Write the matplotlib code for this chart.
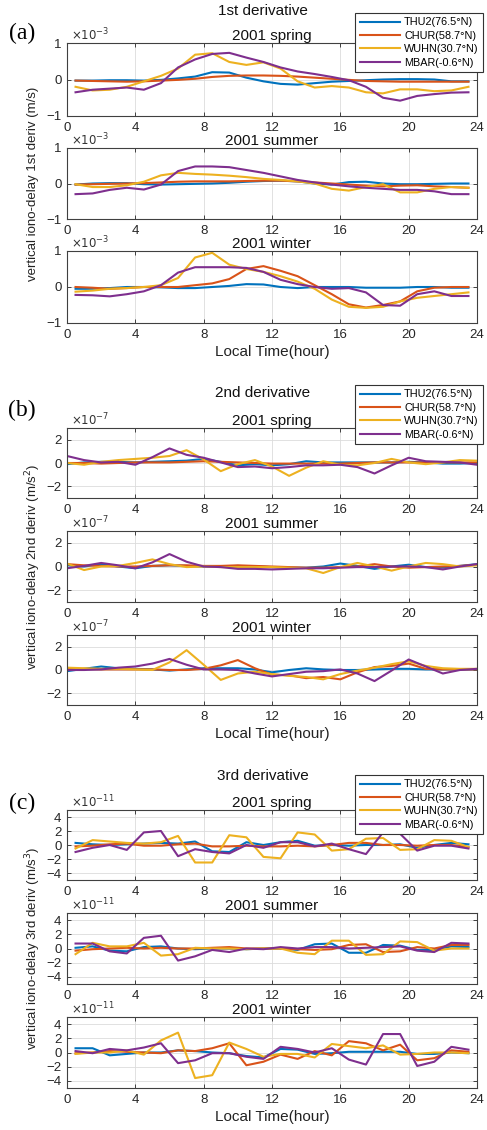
import numpy as np
import matplotlib
matplotlib.use("Agg")
import matplotlib.pyplot as plt

plt.rcParams['font.family'] = ['Liberation Sans', 'DejaVu Sans']

stations = ['THU2(76.5°N)', 'CHUR(58.7°N)', 'WUHN(30.7°N)', 'MBAR(-0.6°N)']
colors = ['#0072BD', '#D95319', '#EDB120', '#7E2F8E']
seasons = ['2001 spring', '2001 summer', '2001 winter']

hours_half = np.arange(0.5, 24, 1.0)
hours_int = np.arange(0, 25, 1.0)

# ---------------- 1st derivative (x 1e-3 m/s) ----------------
d1_spring_thu2 = [-0.03,-0.03,-0.02,-0.02,-0.03,-0.01,0.03,0.08,0.2,0.19,0.05,-0.05,-0.12,-0.14,-0.1,-0.06,-0.04,-0.02,0.0,0.01,0.01,0.0,-0.05,-0.05]
d1_spring_chur = [-0.03,-0.04,-0.05,-0.06,-0.05,-0.03,-0.01,0.02,0.07,0.1,0.11,0.11,0.1,0.08,0.05,0.02,-0.01,-0.04,-0.05,-0.06,-0.06,-0.06,-0.06,-0.06]
d1_spring_wuhn = [-0.2,-0.3,-0.28,-0.2,-0.05,0.1,0.3,0.68,0.72,0.48,0.4,0.47,0.3,-0.05,-0.22,-0.18,-0.22,-0.35,-0.38,-0.27,-0.27,-0.32,-0.3,-0.2]
d1_spring_mbar = [-0.35,-0.28,-0.25,-0.22,-0.28,-0.1,0.33,0.55,0.7,0.73,0.6,0.48,0.33,0.22,0.15,0.07,-0.02,-0.2,-0.5,-0.58,-0.45,-0.4,-0.36,-0.35]

d1_summer_thu2 = [-0.03,0.0,0.01,0.01,-0.02,-0.03,-0.02,-0.01,0.0,0.02,0.05,0.07,0.08,0.06,0.0,-0.03,0.04,0.05,0.0,-0.02,-0.02,-0.01,0.0,0.0]
d1_summer_chur = [-0.03,-0.02,-0.01,0.0,0.01,0.03,0.05,0.06,0.06,0.06,0.07,0.08,0.08,0.06,0.03,0.0,-0.03,-0.06,-0.08,-0.06,-0.05,-0.08,-0.1,-0.12]
d1_summer_wuhn = [-0.02,-0.1,-0.1,-0.05,0.05,0.23,0.3,0.27,0.25,0.22,0.18,0.13,0.1,0.06,0.0,-0.15,-0.2,-0.1,-0.02,-0.25,-0.25,-0.15,-0.1,-0.12]
d1_summer_mbar = [-0.3,-0.28,-0.18,-0.12,-0.17,-0.03,0.35,0.48,0.48,0.46,0.38,0.3,0.2,0.1,0.03,-0.03,-0.08,-0.12,-0.15,-0.18,-0.18,-0.22,-0.3,-0.3]

d1_winter_thu2 = [-0.05,-0.05,-0.03,0.0,0.0,-0.01,-0.03,-0.03,0.0,0.03,0.08,0.07,0.0,-0.03,0.0,0.0,0.0,-0.02,-0.02,-0.02,0.0,0.0,-0.02,-0.02]
d1_winter_chur = [0.0,-0.02,-0.05,-0.03,0.0,0.0,0.0,0.05,0.1,0.22,0.5,0.58,0.45,0.3,0.05,-0.2,-0.48,-0.57,-0.5,-0.4,-0.12,-0.02,0.0,0.0]
d1_winter_wuhn = [-0.13,-0.1,-0.05,-0.03,0.0,0.05,0.25,0.82,0.95,0.62,0.5,0.42,0.3,0.15,-0.05,-0.35,-0.55,-0.58,-0.55,-0.4,-0.3,-0.25,-0.2,-0.15]
d1_winter_mbar = [-0.22,-0.23,-0.26,-0.2,-0.12,0.05,0.4,0.55,0.55,0.55,0.53,0.42,0.2,0.08,0.0,-0.05,-0.03,-0.15,-0.5,-0.52,-0.2,-0.12,-0.25,-0.25]

# ---------------- 2nd derivative (x 1e-7 m/s^2) ----------------
d2_spring_thu2 = [-0.1,0.05,0.1,0.1,0.05,0.1,0.15,0.2,0.35,0.1,-0.2,-0.1,-0.2,-0.1,0.15,0.05,0.05,0.05,0.05,0.05,0.1,0.05,-0.05,-0.05,0.0]
d2_spring_chur = [0.0,0.0,-0.05,0.0,0.05,0.05,0.05,0.1,0.15,0.1,0.05,0.0,-0.05,-0.05,-0.05,-0.05,-0.05,0.0,0.05,0.05,0.05,0.05,0.05,0.05,0.05]
d2_spring_wuhn = [0.0,-0.15,0.1,0.25,0.35,0.45,0.6,1.1,0.3,-0.7,-0.1,0.25,-0.3,-1.1,-0.4,0.15,-0.15,-0.2,0.0,0.35,0.05,-0.1,0.05,0.25,0.2]
d2_spring_mbar = [0.6,0.25,0.05,0.1,-0.15,0.5,1.25,0.7,0.45,0.05,-0.35,-0.3,-0.45,-0.35,-0.2,-0.2,-0.15,-0.35,-0.9,-0.2,0.45,0.15,0.1,0.05,-0.15]

d2_summer_thu2 = [0.1,0.0,0.2,0.0,-0.15,0.05,0.1,0.05,0.0,0.0,0.05,0.0,-0.05,-0.1,-0.1,0.0,0.25,0.05,-0.2,0.0,0.15,-0.05,-0.1,0.05,0.2]
d2_summer_chur = [0.2,0.1,0.05,0.0,0.0,0.05,0.1,0.1,0.05,0.05,0.1,0.05,0.0,-0.05,-0.1,-0.1,-0.05,0.0,0.2,0.0,-0.1,-0.05,0.0,0.05,0.15]
d2_summer_wuhn = [0.25,-0.3,0.0,0.05,0.3,0.6,0.2,-0.05,0.0,-0.05,-0.05,-0.05,-0.05,-0.1,-0.15,-0.55,-0.05,0.3,0.0,-0.35,0.0,0.3,0.2,0.0,0.1]
d2_summer_mbar = [-0.15,0.05,0.3,0.1,-0.15,0.35,1.05,0.4,0.0,-0.05,-0.2,-0.2,-0.25,-0.2,-0.15,-0.15,-0.1,-0.05,-0.05,0.0,0.0,-0.05,-0.25,0.0,0.2]

d2_winter_thu2 = [-0.1,0.1,0.3,0.15,0.1,0.05,-0.05,0.05,0.15,0.15,0.15,0.05,-0.2,0.0,0.15,0.05,0.0,0.0,0.05,0.1,0.1,0.05,0.05,0.05,0.05]
d2_winter_chur = [0.1,0.1,0.05,0.05,0.05,0.05,0.0,0.0,0.1,0.4,0.85,0.15,-0.4,-0.45,-0.7,-0.6,-0.8,-0.2,0.25,0.35,0.55,0.1,0.05,0.05,0.05]
d2_winter_wuhn = [0.2,0.15,0.1,0.1,0.05,0.0,0.65,1.7,0.45,-0.85,-0.3,-0.15,-0.35,-0.5,-0.6,-0.8,-0.35,-0.05,0.2,0.5,0.75,0.35,0.15,0.1,0.1]
d2_winter_mbar = [0.0,0.0,0.05,0.2,0.3,0.55,0.95,0.45,0.05,0.05,0.0,-0.3,-0.55,-0.35,-0.15,-0.1,0.05,-0.3,-0.95,-0.05,0.9,0.3,-0.3,0.0,0.1]

# ---------------- 3rd derivative (x 1e-11 m/s^3) ----------------
d3_spring_thu2 = [0.3,0.1,0.0,0.1,0.2,0.3,0.2,0.5,-0.9,-1.0,0.4,0.0,0.4,0.6,-0.1,0.0,-0.1,0.0,0.0,0.1,-0.4,0.0,0.3,0.1]
d3_spring_chur = [-0.2,-0.1,0.1,0.2,-0.1,-0.1,0.1,0.2,-0.2,-0.2,-0.1,-0.2,-0.2,-0.1,-0.2,0.0,0.3,0.3,0.0,0.0,-0.1,0.0,0.0,-0.3]
d3_spring_wuhn = [-0.5,0.7,0.5,0.3,0.2,0.4,1.3,-2.5,-2.5,1.4,1.1,-1.7,-1.9,1.8,1.5,-0.8,-0.6,0.9,1.0,-0.7,-0.6,0.7,0.6,-0.3]
d3_spring_mbar = [-1.0,-0.4,0.0,-0.7,1.8,2.0,-1.6,-0.6,-1.0,-1.2,0.0,-0.4,0.4,0.4,-0.2,0.2,-0.6,-1.3,1.8,1.6,-0.8,-0.1,-0.1,-0.5]

d3_summer_thu2 = [0.1,0.3,-0.3,-0.4,0.2,0.3,0.0,-0.1,0.0,0.0,-0.1,0.0,0.0,-0.2,0.6,0.7,-0.6,-0.6,0.5,0.4,-0.2,-0.2,0.3,0.2]
d3_summer_chur = [-0.3,-0.1,0.0,0.1,0.0,0.1,0.0,0.0,0.1,0.2,0.0,0.0,0.0,-0.1,-0.2,-0.1,0.5,0.6,-0.5,-0.4,0.2,0.0,0.5,0.5]
d3_summer_wuhn = [-0.8,0.8,0.3,0.3,0.8,-1.0,-0.8,0.1,0.0,0.0,-0.1,0.0,0.0,-0.6,-0.8,1.1,1.1,-0.9,-0.8,1.0,0.9,-0.3,0.0,0.0]
d3_summer_mbar = [0.7,0.7,-0.4,-0.7,1.5,1.8,-1.7,-1.1,-0.2,-0.5,0.0,-0.1,0.2,0.0,0.2,0.2,0.0,0.1,0.2,0.3,-0.3,-0.5,0.8,0.7]

d3_winter_thu2 = [0.6,0.6,-0.4,-0.2,0.0,0.0,0.3,0.2,0.0,-0.1,-0.5,-0.7,0.5,0.4,-0.2,-0.1,0.1,0.1,0.1,0.1,-0.2,-0.2,0.0,-0.1]
d3_winter_chur = [-0.1,0.0,0.2,0.1,0.0,-0.1,0.3,0.2,0.6,1.3,-1.8,-1.3,-0.3,-0.9,0.2,-0.4,1.6,1.3,0.3,1.1,-1.1,-0.8,0.3,0.1]
d3_winter_wuhn = [-0.2,0.0,0.0,0.3,-0.3,1.7,2.8,-3.6,-3.2,1.4,0.5,-0.6,-0.2,-0.2,-0.7,1.2,0.9,0.6,1.0,-0.3,-0.2,0.0,0.0,-0.1]
d3_winter_mbar = [0.2,-0.1,0.5,0.3,0.7,1.3,-1.5,-1.1,-0.1,-0.1,-0.6,-0.9,0.8,0.5,0.0,0.6,-1.0,-1.7,2.6,2.6,-1.9,-1.3,0.8,0.4]

groups = [
    dict(x=hours_half, exp='-3', ylim=(-1, 1), yticks=[-1, 0, 1],
         title='1st derivative', label='(a)',
         ylabel='vertical iono-delay 1st deriv (m/s)',
         data=[[d1_spring_thu2, d1_spring_chur, d1_spring_wuhn, d1_spring_mbar],
               [d1_summer_thu2, d1_summer_chur, d1_summer_wuhn, d1_summer_mbar],
               [d1_winter_thu2, d1_winter_chur, d1_winter_wuhn, d1_winter_mbar]]),
    dict(x=hours_int, exp='-7', ylim=(-3, 3), yticks=[-2, 0, 2],
         title='2nd derivative', label='(b)',
         ylabel='vertical iono-delay 2nd deriv (m/s$^2$)',
         data=[[d2_spring_thu2, d2_spring_chur, d2_spring_wuhn, d2_spring_mbar],
               [d2_summer_thu2, d2_summer_chur, d2_summer_wuhn, d2_summer_mbar],
               [d2_winter_thu2, d2_winter_chur, d2_winter_wuhn, d2_winter_mbar]]),
    dict(x=hours_half, exp='-11', ylim=(-5, 5), yticks=[-4, -2, 0, 2, 4],
         title='3rd derivative', label='(c)',
         ylabel='vertical iono-delay 3rd deriv (m/s$^3$)',
         data=[[d3_spring_thu2, d3_spring_chur, d3_spring_wuhn, d3_spring_mbar],
               [d3_summer_thu2, d3_summer_chur, d3_summer_wuhn, d3_summer_mbar],
               [d3_winter_thu2, d3_winter_chur, d3_winter_wuhn, d3_winter_mbar]]),
]

W, H = 487, 1130
fig = plt.figure(figsize=(W / 100, H / 100), dpi=100)

# axes pixel boxes (top, bottom)
boxes = [[(43, 116), (148, 219), (251, 323)],
         [(428, 498), (531, 602), (635, 705)],
         [(810, 880), (913, 984), (1017, 1088)]]
left_px, right_px = 67, 477
title_y = [11, 393, 776]
label_y = [33, 410, 803]
legend_top = [13, 385, 775]
edge = '#262626'

for g, grp in enumerate(groups):
    axes = []
    for s in range(3):
        top, bot = boxes[g][s]
        ax = fig.add_axes([left_px / W, 1 - bot / H, (right_px - left_px) / W, (bot - top) / H])
        lines = []
        for k in range(4):
            ln, = ax.plot(grp['x'], grp['data'][s][k], color=colors[k], lw=1.5)
            lines.append(ln)
        ax.set_xlim(0, 24)
        ax.set_ylim(*grp['ylim'])
        ax.set_xticks(range(0, 25, 4))
        ax.set_yticks(grp['yticks'])
        ax.grid(True, color='#dcdcdc', lw=0.6)
        ax.set_axisbelow(True)
        ax.tick_params(direction='in', top=True, right=True, length=3,
                       labelsize=9.5, colors=edge, width=0.6, pad=4)
        for sp in ax.spines.values():
            sp.set_color('#404040')
            sp.set_linewidth(0.8)
        ax.set_title(seasons[s], fontsize=11, pad=2, color='#111111')
        ax.text(0.01, 1.0, r'$\times10^{' + grp['exp'] + '}$', transform=ax.transAxes,
                ha='left', va='bottom', fontsize=8.5, color='#333333')
        axes.append(ax)
    axes[2].set_xlabel('Local Time(hour)', fontsize=11, color='#222222', labelpad=3)
    mid_top, mid_bot = boxes[g][1]
    fig.text(33 / W, 1 - (mid_top + mid_bot) / 2 / H, grp['ylabel'], rotation=90,
             ha='center', va='center', fontsize=9.5, color='#222222')
    fig.text(263 / W, 1 - title_y[g] / H, grp['title'], ha='center', va='center',
             fontsize=11, color='#111111')
    fig.text(22 / W, 1 - label_y[g] / H, grp['label'], ha='center', va='center',
             fontsize=17, family=['Liberation Serif', 'DejaVu Serif'])
    leg = fig.legend(lines, stations, loc='upper right',
                     bbox_to_anchor=(483 / W, 1 - legend_top[g] / H),
                     fontsize=7.8, handlelength=3.7, handletextpad=0.4,
                     labelspacing=0.32, borderpad=0.4, borderaxespad=0,
                     framealpha=1, fancybox=False, edgecolor='#333333')
    leg.get_frame().set_linewidth(0.8)

fig.savefig('out.png', dpi=100, facecolor='white')
